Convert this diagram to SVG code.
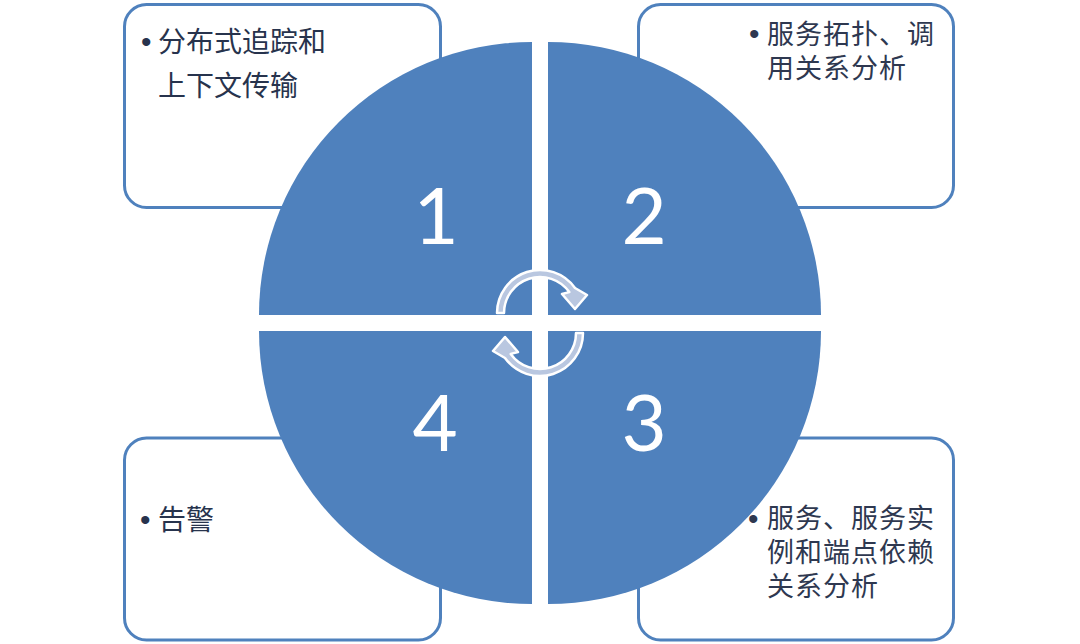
<svg xmlns="http://www.w3.org/2000/svg" width="1080" height="644" viewBox="0 0 1080 644">
<style>
.box{fill:#ffffff;stroke:#4f81bd;stroke-width:3}
.seg{fill:#4f81bd}
.num{font-family:Lato,"Open Sans","Liberation Sans",sans-serif;font-size:78px;fill:#ffffff;text-anchor:middle}
.txt{font-family:"Noto Sans CJK SC","Noto Sans",sans-serif;font-size:28px;fill:#27334d}
.txs{font-family:"Noto Sans CJK SC","Noto Sans",sans-serif;font-size:27px;letter-spacing:1px;fill:#2e3850}
.bul{font-family:"Liberation Sans",sans-serif;font-size:30px;letter-spacing:0}
.arr{fill:#b9c7e0;stroke:#ffffff;stroke-width:2.5;stroke-linejoin:round}
</style>
<rect width="1080" height="644" fill="#ffffff"/>
<g id="box1">
<rect class="box" x="124.5" y="4.5" width="316" height="203" rx="22"/>
<text class="txt"><tspan class="bul" x="141" y="52">•</tspan><tspan x="158" y="52">分布式追踪和</tspan><tspan x="158" y="96">上下文传输</tspan></text>
</g>
<g id="box2">
<rect class="box" x="638.5" y="4.5" width="315" height="203" rx="22"/>
<text class="txs"><tspan class="bul" x="749" y="44">•</tspan><tspan x="767" y="44">服务拓扑、调</tspan><tspan x="767" y="78">用关系分析</tspan></text>
</g>
<g id="box3">
<rect class="box" x="638.5" y="438" width="315" height="202" rx="22"/>
<text class="txs"><tspan class="bul" x="748" y="529">•</tspan><tspan x="767" y="528">服务、服务实</tspan><tspan x="767" y="562">例和端点依赖</tspan><tspan x="767" y="596">关系分析</tspan></text>
</g>
<g id="box4">
<rect class="box" x="124.5" y="438" width="316" height="202" rx="22"/>
<text class="txt"><tspan class="bul" x="140" y="530">•</tspan><tspan x="158" y="530">告警</tspan></text>
</g>
<g id="seg1">
<path class="seg" d="M532,315 L259,315 A273,273 0 0 1 532,42 Z"/>
<text class="num" x="436" y="244">1</text>
</g>
<g id="seg2">
<path class="seg" d="M548,315 L548,42 A273,273 0 0 1 821,315 Z"/>
<text class="num" x="644" y="244">2</text>
</g>
<g id="seg3">
<path class="seg" d="M548,331 L821,331 A273,273 0 0 1 548,604 Z"/>
<text class="num" x="644" y="451">3</text>
</g>
<g id="seg4">
<path class="seg" d="M532,331 L532,604 A273,273 0 0 1 259,331 Z"/>
<text class="num" x="435" y="451">4</text>
</g>
<g id="connectors">
<path class="arr" d="M497,313 A43,43 0 0 1 575,288 L587,295 L575,309 L562,294 L569.3,292.1 A36,36 0 0 0 504,313 Z"/>
<path class="arr" transform="rotate(180 540 323)" d="M497,313 A43,43 0 0 1 575,288 L587,295 L575,309 L562,294 L569.3,292.1 A36,36 0 0 0 504,313 Z"/>
</g>
</svg>
